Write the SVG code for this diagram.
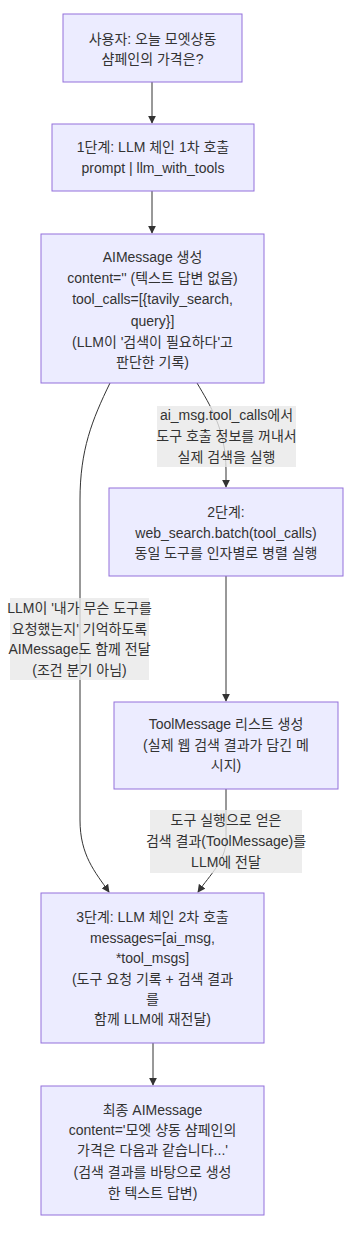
<svg xmlns="http://www.w3.org/2000/svg" width="354" height="1238" viewBox="0 0 354 1238">
<style>
.node rect{fill:#ECECFF;stroke:#9370DB;stroke-width:1}
text{font-family:"Liberation Sans","Noto Sans CJK KR",sans-serif;font-size:14px;fill:#333;text-anchor:middle;dominant-baseline:central}
.edge{fill:none;stroke:#333;stroke-width:1}
.lbl rect{fill:#e8e8e8;fill-opacity:0.8;stroke:none}
</style>
<defs>
<marker id="arr" viewBox="0 0 10 10" refX="9" refY="5" markerWidth="8" markerHeight="8" markerUnits="userSpaceOnUse" orient="auto">
<path d="M0,0 L10,5 L0,10 z" fill="#333"/>
</marker>
</defs>
<rect width="354" height="1238" fill="#fff"/>
<g id="connectors">
<path class="edge" d="M152,82 L152,123" marker-end="url(#arr)"/>
<path class="edge" d="M152,191 L152,233" marker-end="url(#arr)"/>
<path class="edge" d="M197,383 C210,405 226,430 226,470 L226,487" marker-end="url(#arr)"/>
<path class="edge" d="M110,383 C92,420 80,450 80,500 L80,820 C80,855 95,872 109,892" marker-end="url(#arr)"/>
<path class="edge" d="M226,576 L226,701" marker-end="url(#arr)"/>
<path class="edge" d="M226,789 L226,840 C226,860 210,875 198,892" marker-end="url(#arr)"/>
<path class="edge" d="M153,1043 L153,1085" marker-end="url(#arr)"/>
</g>
<g id="label-e1" class="lbl">
<rect x="157" y="406" width="139" height="61"/>
<text x="226.5" y="415">ai_msg.tool_calls에서</text>
<text x="226.5" y="436">도구 호출 정보를 꺼내서</text>
<text x="226.5" y="457">실제 검색을 실행</text>
</g>
<g id="label-e2" class="lbl">
<rect x="10" y="598" width="139" height="82"/>
<text x="79.5" y="608">LLM이 '내가 무슨 도구를</text>
<text x="79.5" y="629">요청했는지' 기억하도록</text>
<text x="79.5" y="649">AIMessage도 함께 전달</text>
<text x="79.5" y="670">(조건 분기 아님)</text>
</g>
<g id="label-e3" class="lbl">
<rect x="150" y="810" width="152" height="63"/>
<text x="226" y="820">도구 실행으로 얻은</text>
<text x="226" y="841">검색 결과(ToolMessage)를</text>
<text x="226" y="862">LLM에 전달</text>
</g>
<g id="n1" class="node">
<rect x="63" y="14" width="179" height="68"/>
<text x="152.5" y="39">사용자: 오늘 모엣샹동</text>
<text x="152.5" y="59">샴페인의 가격은?</text>
</g>
<g id="n2" class="node">
<rect x="52" y="124" width="202" height="67"/>
<text x="153" y="147">1단계: LLM 체인 1차 호출</text>
<text x="153" y="168">prompt | llm_with_tools</text>
</g>
<g id="n3" class="node">
<rect x="41" y="234" width="223" height="149"/>
<text x="152.5" y="257">AIMessage 생성</text>
<text x="152.5" y="278">content='' (텍스트 답변 없음)</text>
<text x="152.5" y="299">tool_calls=[{tavily_search,</text>
<text x="152.5" y="321">query}]</text>
<text x="152.5" y="342">(LLM이 '검색이 필요하다'고</text>
<text x="152.5" y="362">판단한 기록)</text>
</g>
<g id="n4" class="node">
<rect x="109" y="488" width="234" height="88"/>
<text x="226" y="512">2단계:</text>
<text x="226" y="533">web_search.batch(tool_calls)</text>
<text x="226" y="553">동일 도구를 인자별로 병렬 실행</text>
</g>
<g id="n5" class="node">
<rect x="114" y="702" width="224" height="87"/>
<text x="226" y="724">ToolMessage 리스트 생성</text>
<text x="226" y="745">(실제 웹 검색 결과가 담긴 메</text>
<text x="226" y="765">시지)</text>
</g>
<g id="n6" class="node">
<rect x="41" y="893" width="223" height="150"/>
<text x="152.5" y="917">3단계: LLM 체인 2차 호출</text>
<text x="152.5" y="938">messages=[ai_msg,</text>
<text x="152.5" y="958">*tool_msgs]</text>
<text x="152.5" y="979">(도구 요청 기록 + 검색 결과</text>
<text x="152.5" y="999">를</text>
<text x="152.5" y="1019">함께 LLM에 재전달)</text>
</g>
<g id="n7" class="node">
<rect x="41" y="1086" width="223" height="129"/>
<text x="152.5" y="1110">최종 AIMessage</text>
<text x="152.5" y="1130">content='모엣 샹동 샴페인의</text>
<text x="152.5" y="1150">가격은 다음과 같습니다...'</text>
<text x="152.5" y="1172">(검색 결과를 바탕으로 생성</text>
<text x="152.5" y="1193">한 텍스트 답변)</text>
</g>
</svg>
